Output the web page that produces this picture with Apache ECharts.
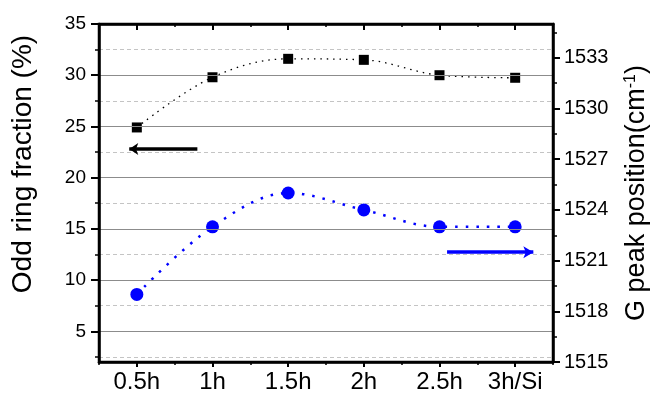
<!DOCTYPE html>
<html>
<head>
<meta charset="utf-8">
<script src="https://cdn.jsdelivr.net/npm/echarts@6/dist/echarts.min.js"></script>
<style>
  html, body { margin: 0; padding: 0; background: #fff; }
  #chart { width: 651px; height: 397px; }
</style>
</head>
<body>
<div id="chart"></div>
<script>
// Samples along the x axis
const categories = ['0.5h', '1h', '1.5h', '2h', '2.5h', '3h/Si'];
// Left axis: odd ring fraction (%)
const oddRingFraction = [24.9, 29.8, 31.6, 31.5, 30.0, 29.75];
// Right axis: G peak position (cm-1)
const gPeakPosition = [1519, 1523, 1525, 1524, 1523, 1523];

// Tick values
const leftMajorTicks = [5, 10, 15, 20, 25, 30, 35];
const leftMinorTicks = [2.5, 7.5, 12.5, 17.5, 22.5, 27.5, 32.5];
const rightMajorTicks = [1515, 1518, 1521, 1524, 1527, 1530, 1533];
const rightMinorTicks = [1516.5, 1519.5, 1522.5, 1525.5, 1528.5, 1531.5, 1534.5];

// Arrows: start / end along the band scale (0..6) and level on their value axis
const leftArrowX = [1.30, 0.40];
const leftArrowY = 22.8;
const rightArrowX = [4.60, 5.74];
const rightArrowY = 1521.5;

const FONT = '"Liberation Sans", Arial, sans-serif';
const BLACK = '#000';
const BLUE = '#0000ff';

const chart = echarts.init(document.getElementById('chart'), null, { renderer: 'canvas' });

chart.setOption({
  animation: false,
  backgroundColor: '#fff',
  textStyle: { fontFamily: FONT, color: BLACK },
  grid: {
    left: 99, right: 98, top: 24, bottom: 35, outerBoundsMode: 'none',
    show: true, borderColor: BLACK, borderWidth: 2.5, backgroundColor: 'transparent', z: 20
  },
  xAxis: [
    { // bottom axis with sample labels
      type: 'category', position: 'bottom', data: categories, boundaryGap: true,
      axisLine: { show: true, onZero: false, lineStyle: { color: BLACK, width: 2.5 } },
      axisTick: { show: true, alignWithLabel: true, length: 5, lineStyle: { color: BLACK, width: 2 } },
      axisLabel: { show: true, interval: 0, fontSize: 24, margin: 8, color: BLACK, fontFamily: FONT },
      splitLine: { show: false }, z: 10
    },
    { // bottom boundary ticks
      type: 'category', position: 'bottom', data: categories, boundaryGap: true,
      axisLine: { show: false, onZero: false },
      axisTick: { show: true, length: 3, lineStyle: { color: BLACK, width: 1.5 } },
      axisLabel: { show: false }, splitLine: { show: false }
    },
    { // top frame
      type: 'category', position: 'top', data: categories, boundaryGap: true,
      axisLine: { show: true, onZero: false, lineStyle: { color: BLACK, width: 2.5 } },
      axisTick: { show: true, inside: true, alignWithLabel: true, length: 6, lineStyle: { color: BLACK, width: 2 } },
      axisLabel: { show: false }, splitLine: { show: false }, z: 10
    },
    { // top boundary ticks
      type: 'category', position: 'top', data: categories, boundaryGap: true,
      axisLine: { show: false, onZero: false },
      axisTick: { show: true, inside: true, length: 3, lineStyle: { color: BLACK, width: 1.5 } },
      axisLabel: { show: false }, splitLine: { show: false }
    },
    { // continuous band scale for the arrows
      type: 'value', min: 0, max: 6, show: false
    }
  ],
  yAxis: [
    { // left: odd ring fraction
      type: 'value', position: 'left', min: 2, max: 35,
      name: 'Odd ring fraction (%)', nameLocation: 'middle', nameRotate: 90, nameGap: 62,
      nameTextStyle: { fontSize: 28, color: BLACK, fontFamily: FONT, padding: [0, 0, 0, 58] },
      axisLine: { show: true, onZero: false, lineStyle: { color: BLACK, width: 2.5 } },
      axisTick: { show: true, customValues: leftMajorTicks, length: 8, lineStyle: { color: BLACK, width: 2 } },
      axisLabel: { show: true, customValues: leftMajorTicks, fontSize: 19, margin: 13, color: BLACK, fontFamily: FONT },
      splitLine: { show: true, lineStyle: { color: '#8c8c8c', width: 1, type: 'solid' } }, z: 10
    },
    { // right: G peak position
      type: 'value', position: 'right', min: 1515, max: 1535,
      name: 'G peak position(cm{sup|-1})', nameLocation: 'middle', nameRotate: 90, nameGap: 70,
      nameTextStyle: {
        fontSize: 27, color: BLACK, fontFamily: FONT,
        rich: { sup: { fontSize: 16, verticalAlign: 'top', color: BLACK, fontFamily: FONT } }
      },
      axisLine: { show: true, onZero: false, lineStyle: { color: BLACK, width: 2.5 } },
      axisTick: { show: true, customValues: rightMajorTicks, length: 7, lineStyle: { color: BLACK, width: 2 } },
      axisLabel: {
        show: true, customValues: rightMajorTicks, fontSize: 20, margin: 11, color: BLACK, fontFamily: FONT,
        formatter: v => String(v)
      },
      splitLine: { show: false }, z: 10
    },
    { // left minor ticks + dashed grid
      type: 'value', position: 'left', min: 2, max: 35,
      axisLine: { show: false, onZero: false },
      axisTick: { show: true, customValues: leftMinorTicks, length: 4, lineStyle: { color: BLACK, width: 1.5 } },
      axisLabel: { show: false },
      splitLine: { show: true, lineStyle: { color: '#c4c4c4', width: 1, type: [4, 3] } }
    },
    { // right minor ticks
      type: 'value', position: 'right', min: 1515, max: 1535,
      axisLine: { show: false, onZero: false },
      axisTick: { show: true, customValues: rightMinorTicks, length: 4, lineStyle: { color: BLACK, width: 1.5 } },
      axisLabel: { show: false }, splitLine: { show: false }
    }
  ],
  series: [
    {
      name: 'Odd ring fraction', type: 'line', xAxisIndex: 0, yAxisIndex: 0,
      data: oddRingFraction, smooth: 0.35,
      symbol: 'rect', symbolSize: 10,
      itemStyle: { color: BLACK },
      lineStyle: { color: BLACK, width: 1.3, type: [1.5, 5] },
      z: 5
    },
    {
      name: 'G peak position', type: 'line', xAxisIndex: 0, yAxisIndex: 1,
      data: gPeakPosition, smooth: 0.35,
      symbol: 'circle', symbolSize: 13,
      itemStyle: { color: BLUE },
      lineStyle: { color: BLUE, width: 2.5, type: [2.5, 8] },
      z: 5
    },
    {
      name: 'left arrow', type: 'line', xAxisIndex: 4, yAxisIndex: 0, data: [],
      markLine: {
        silent: true, animation: false,
        symbol: ['none', 'arrow'], symbolSize: [9, 9],
        label: { show: false },
        lineStyle: { color: BLACK, width: 3.5, type: 'solid' },
        data: [[{ coord: [leftArrowX[0], leftArrowY] }, { coord: [leftArrowX[1], leftArrowY] }]]
      }
    },
    {
      name: 'right arrow', type: 'line', xAxisIndex: 4, yAxisIndex: 1, data: [],
      markLine: {
        silent: true, animation: false,
        symbol: ['none', 'arrow'], symbolSize: [9, 10],
        label: { show: false },
        lineStyle: { color: BLUE, width: 3.5, type: 'solid' },
        data: [[{ coord: [rightArrowX[0], rightArrowY] }, { coord: [rightArrowX[1], rightArrowY] }]]
      }
    }
  ]
});
</script>
</body>
</html>
